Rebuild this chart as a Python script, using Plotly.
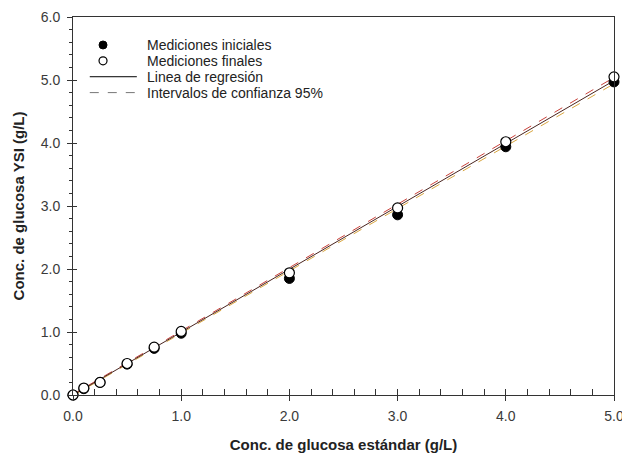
import plotly.graph_objects as go

# Calibration data: standard glucose concentration vs. YSI reading (g/L)
conc_estandar = [0.0, 0.1, 0.25, 0.5, 0.75, 1.0, 2.0, 3.0, 4.0, 5.0]
mediciones_iniciales = [0.0, 0.10, 0.20, 0.49, 0.74, 0.98, 1.85, 2.86, 3.94, 4.97]
mediciones_finales = [0.0, 0.11, 0.20, 0.50, 0.76, 1.01, 1.94, 2.97, 4.02, 5.05]

# Regression line and 95% confidence band endpoints
linea_x = [0.0, 5.0]
regresion_y = [0.0, 4.99]
ic_superior_y = [0.01, 5.04]
ic_inferior_y = [-0.01, 4.94]

# Legend labels
etiquetas_leyenda = ["Mediciones iniciales", "Mediciones finales",
                     "Linea de regresión", "Intervalos de confianza 95%"]

font_family = "Liberation Sans, Arial, sans-serif"
tick_color = "#3a3a3a"

fig = go.Figure()

fig.add_trace(go.Scatter(
    x=linea_x, y=ic_superior_y, mode="lines",
    line=dict(color="#c8413a", width=1, dash="dash"),
    showlegend=False, hoverinfo="skip", cliponaxis=False))
fig.add_trace(go.Scatter(
    x=linea_x, y=ic_inferior_y, mode="lines",
    line=dict(color="#d9a640", width=1, dash="dash"),
    showlegend=False, hoverinfo="skip", cliponaxis=False))
fig.add_trace(go.Scatter(
    x=linea_x, y=regresion_y, mode="lines",
    line=dict(color="#4a2520", width=1),
    showlegend=False, hoverinfo="skip", cliponaxis=False))

fig.add_trace(go.Scatter(
    x=conc_estandar, y=mediciones_iniciales, mode="markers",
    name=etiquetas_leyenda[0], showlegend=False, cliponaxis=False,
    marker=dict(symbol="circle", size=10, color="black",
                line=dict(color="black", width=1))))
fig.add_trace(go.Scatter(
    x=conc_estandar, y=mediciones_finales, mode="markers",
    name=etiquetas_leyenda[1], showlegend=False, cliponaxis=False,
    marker=dict(symbol="circle", size=10, color="white",
                line=dict(color="black", width=1.2))))

# Empty trace on the overlay axes that carry the inward half of the ticks
fig.add_trace(go.Scatter(x=[None], y=[None], xaxis="x2", yaxis="y2",
                         showlegend=False, hoverinfo="skip"))

tickfont = dict(family=font_family, size=14, color=tick_color)
titlefont = dict(family=font_family, size=15, color="#222222")

fig.update_layout(
    width=622, height=457,
    margin=dict(l=73, r=8, t=17, b=62),
    paper_bgcolor="white", plot_bgcolor="white",
    font=dict(family=font_family, color="#222222"),
    showlegend=False,
    xaxis=dict(
        range=[0, 5], dtick=1.0, tickformat=".1f", automargin=False,
        showgrid=False, zeroline=False, showline=True, linecolor="#333333",
        linewidth=1, mirror=True, ticks="outside", ticklen=5,
        tickcolor="#333333", tickfont=tickfont, ticklabeloverflow="allow",
        ticklabelstandoff=3,
        title=dict(text="<b>Conc. de glucosa estándar (g/L)</b>",
                   font=titlefont, standoff=16)),
    yaxis=dict(
        range=[0, 6], dtick=1.0, tickformat=".1f", automargin=False,
        showgrid=False, zeroline=False, showline=True, linecolor="#333333",
        linewidth=1, mirror=True, ticks="outside", ticklen=5,
        tickcolor="#333333", tickfont=tickfont, ticklabelstandoff=4,
        minor=dict(ticks="outside", ticklen=3, tickcolor="#333333", dtick=0.2),
        title=dict(text="<b>Conc. de glucosa YSI (g/L)</b>",
                   font=titlefont, standoff=12)),
    xaxis2=dict(
        overlaying="x", anchor="y2", side="bottom", range=[0, 5], dtick=1.0,
        showgrid=False, zeroline=False, showline=False, showticklabels=False,
        ticks="inside", ticklen=6, tickcolor="#333333",
        minor=dict(ticks="inside", ticklen=6, tickcolor="#333333", dtick=0.2)),
    yaxis2=dict(
        overlaying="y", anchor="x2", side="left", range=[0, 6], dtick=1.0,
        showgrid=False, zeroline=False, showline=False, showticklabels=False,
        ticks="inside", ticklen=4, tickcolor="#333333"),
)

# Legend drawn in plot-area coordinates
marker_x = 0.0555
texto_x = 0.133
linea_x0, linea_x1 = 0.031, 0.118
filas_y = [0.926, 0.884, 0.842, 0.800]

fig.add_shape(type="circle", xref="paper", yref="paper",
              xsizemode="pixel", ysizemode="pixel",
              xanchor=marker_x, yanchor=filas_y[0],
              x0=-4, x1=4, y0=-4, y1=4,
              fillcolor="black", line=dict(color="black", width=1))
fig.add_shape(type="circle", xref="paper", yref="paper",
              xsizemode="pixel", ysizemode="pixel",
              xanchor=marker_x, yanchor=filas_y[1],
              x0=-4, x1=4, y0=-4, y1=4,
              fillcolor="white", line=dict(color="black", width=1.2))
fig.add_shape(type="line", xref="paper", yref="paper",
              x0=linea_x0, x1=linea_x1, y0=filas_y[2], y1=filas_y[2],
              line=dict(color="black", width=1))
fig.add_shape(type="line", xref="paper", yref="paper",
              x0=linea_x0, x1=linea_x1, y0=filas_y[3], y1=filas_y[3],
              line=dict(color="#777777", width=1, dash="dash"))

for etiqueta, fy in zip(etiquetas_leyenda, filas_y):
    fig.add_annotation(xref="paper", yref="paper", x=texto_x, y=fy,
                       text=etiqueta, showarrow=False,
                       xanchor="left", yanchor="middle",
                       font=dict(family=font_family, size=14, color="#222222"))

fig.write_html("out.html")
